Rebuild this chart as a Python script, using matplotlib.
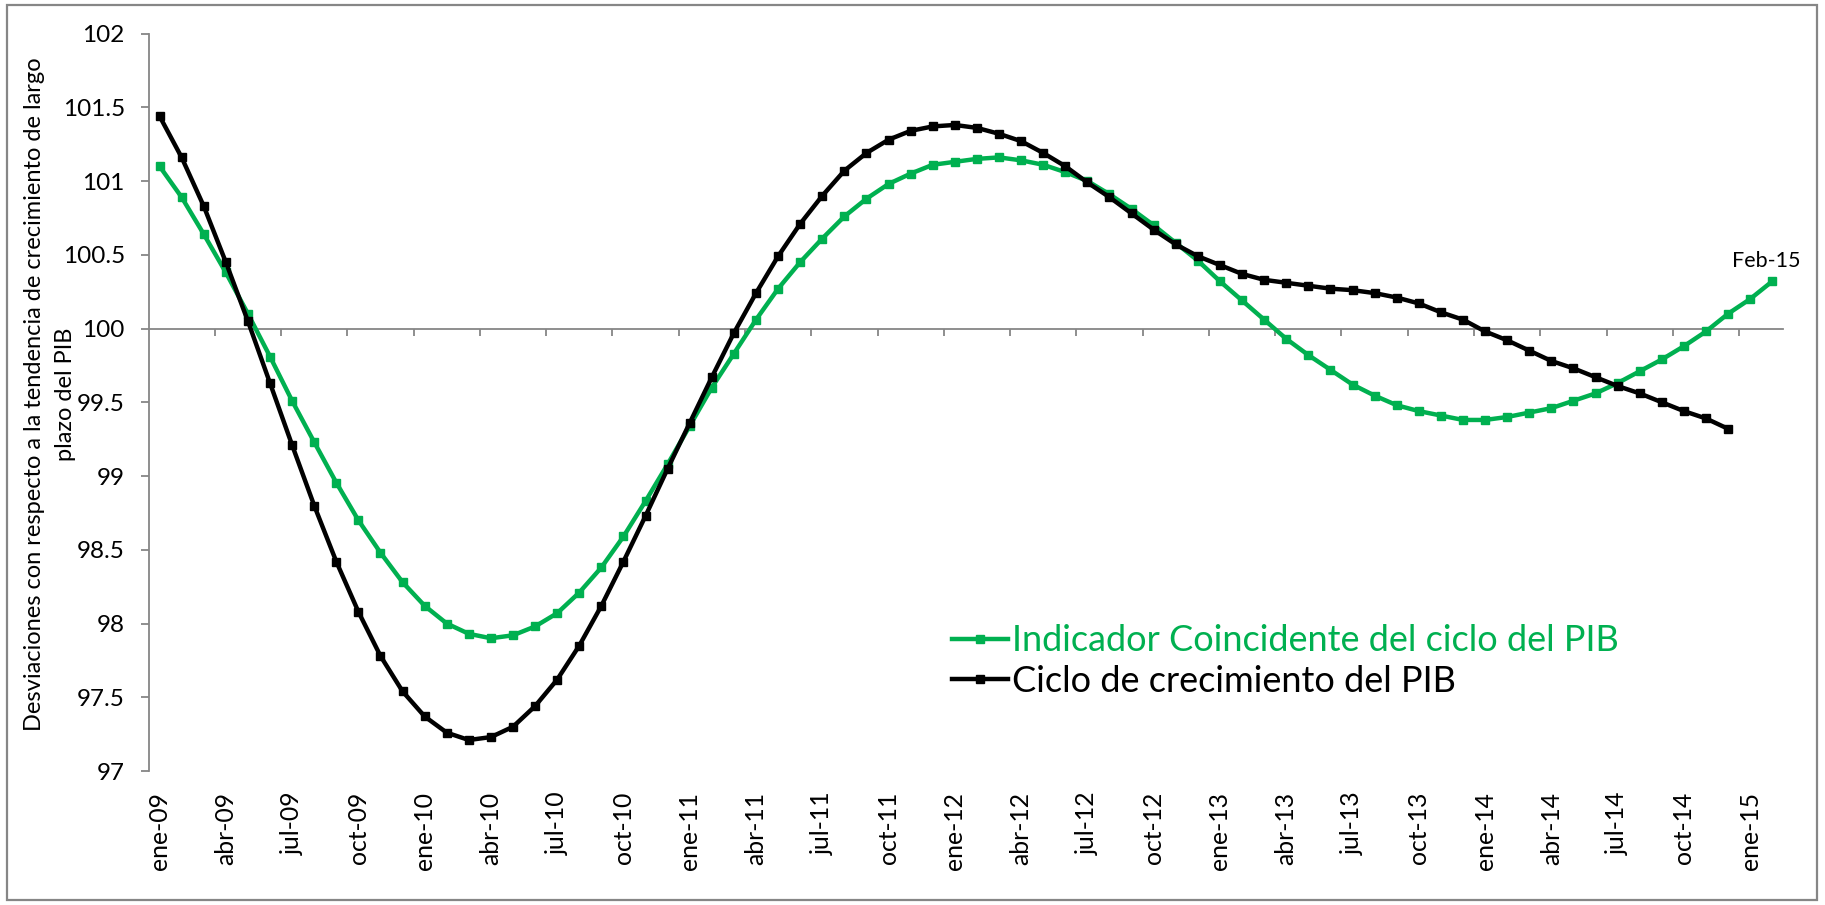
import matplotlib
matplotlib.use("Agg")
import matplotlib.pyplot as plt
import numpy as np
from matplotlib.patches import Rectangle
from matplotlib.ticker import FuncFormatter

plt.rcParams['font.family'] = ['Lato', 'DejaVu Sans']

# ---- data ----
tick_labels = ['ene-09', 'abr-09', 'jul-09', 'oct-09',
               'ene-10', 'abr-10', 'jul-10', 'oct-10',
               'ene-11', 'abr-11', 'jul-11', 'oct-11',
               'ene-12', 'abr-12', 'jul-12', 'oct-12',
               'ene-13', 'abr-13', 'jul-13', 'oct-13',
               'ene-14', 'abr-14', 'jul-14', 'oct-14',
               'ene-15']

indicador = [101.10, 100.89, 100.64, 100.38, 100.10, 99.81, 99.51, 99.23, 98.955, 98.70, 98.48, 98.28,
             98.12, 98.00, 97.93, 97.90, 97.92, 97.98, 98.07, 98.21, 98.38, 98.59, 98.83, 99.08,
             99.34, 99.60, 99.83, 100.06, 100.27, 100.45, 100.61, 100.76, 100.88, 100.98, 101.05, 101.11,
             101.13, 101.15, 101.16, 101.14, 101.11, 101.06, 101.00, 100.91, 100.81, 100.70, 100.58, 100.46,
             100.32, 100.19, 100.06, 99.93, 99.82, 99.72, 99.62, 99.545, 99.48, 99.44, 99.41, 99.38,
             99.38, 99.40, 99.43, 99.46, 99.51, 99.56, 99.63, 99.71, 99.79, 99.88, 99.98, 100.10,
             100.20, 100.32]

ciclo = [101.44, 101.16, 100.83, 100.45, 100.05, 99.63, 99.21, 98.80, 98.42, 98.08, 97.78, 97.54,
         97.37, 97.26, 97.21, 97.23, 97.30, 97.44, 97.62, 97.85, 98.12, 98.42, 98.73, 99.05,
         99.36, 99.67, 99.97, 100.24, 100.49, 100.71, 100.90, 101.07, 101.19, 101.28, 101.34, 101.37,
         101.38, 101.36, 101.32, 101.27, 101.19, 101.10, 100.99, 100.89, 100.78, 100.67, 100.57, 100.49,
         100.43, 100.37, 100.33, 100.31, 100.29, 100.27, 100.26, 100.24, 100.21, 100.17, 100.11, 100.06,
         99.98, 99.92, 99.85, 99.78, 99.73, 99.67, 99.61, 99.56, 99.50, 99.44, 99.39, 99.32]

label_green = 'Indicador Coincidente del ciclo del PIB'
label_black = 'Ciclo de crecimiento del PIB'
last_label = 'Feb-15'
ylabel_lines = ['Desviaciones con respecto a la tendencia de crecimiento de largo',
                'plazo del PIB']

GREEN = '#00B050'
BLACK = '#000000'
GRAY = '#868686'

W, H = 1825, 905
fig = plt.figure(figsize=(W / 100, H / 100), dpi=100)
fig.patch.set_facecolor('white')

left, right, top, bottom = 148.5, 1783.3, 33.5, 771.0
ax = fig.add_axes([left / W, 1 - bottom / H, (right - left) / W, (bottom - top) / H])

x_g = np.arange(len(indicador))
x_b = np.arange(len(ciclo))

ax.plot(x_g, indicador, color=GREEN, lw=3.2, marker='s', ms=6, mec=GREEN, mfc=GREEN,
        label=label_green, zorder=3)
ax.plot(x_b, ciclo, color=BLACK, lw=3.2, marker='s', ms=6, mec=BLACK, mfc=BLACK,
        label=label_black, zorder=4)

ax.set_xlim(-0.5, 73.5)
ax.set_ylim(97, 102)

# spines
for s in ['top', 'right']:
    ax.spines[s].set_visible(False)
ax.spines['left'].set_color(GRAY)
ax.spines['left'].set_linewidth(1.3)
ax.spines['bottom'].set_position(('data', 100))
ax.spines['bottom'].set_color(GRAY)
ax.spines['bottom'].set_linewidth(1.3)

# y ticks
ax.set_yticks(np.arange(97, 102.01, 0.5))
ax.yaxis.set_major_formatter(FuncFormatter(lambda v, p: f'{v:g}'))
ax.tick_params(axis='y', direction='out', length=6, width=1.3, color=GRAY,
               pad=11, labelsize=17.5, labelcolor='black')

# x ticks on the axis line at 100 (between categories)
ax.set_xticks(np.arange(2.5, 73, 3))
ax.tick_params(axis='x', direction='out', length=5, width=1.3, color=GRAY,
               labelbottom=False)

# x labels at bottom of plot
sec = ax.secondary_xaxis('bottom')
sec.spines['bottom'].set_visible(False)
sec.set_xticks(np.arange(0, 73, 3), tick_labels)
sec.tick_params(axis='x', length=0, pad=15, labelsize=17.8, rotation=90)

# y label: two centred lines
for xc, line in zip([35, 65], ylabel_lines):
    fig.text(xc / W, 1 - 394.5 / H, line, rotation=90, ha='center', va='center',
             fontsize=17)

# annotation of last point
ax.annotate(last_label, xy=(x_g[-1], indicador[-1]), xytext=(-4, 7.5),
            textcoords='offset points', ha='center', va='bottom', fontsize=15.5)

# legend
leg = ax.legend(loc='center left', bbox_to_anchor=(952 / W, 1 - 661 / H),
                bbox_transform=fig.transFigure, frameon=False, fontsize=26,
                handlelength=1.55, handletextpad=0.1, borderpad=0, borderaxespad=0,
                labelspacing=0.2, numpoints=1, labelcolor='linecolor')

# chart border
fig.patches.append(Rectangle((7 / W, 5 / H), (1817 - 7) / W, (900 - 5) / H,
                             transform=fig.transFigure, fill=False,
                             edgecolor=GRAY, lw=1.6))

fig.savefig('out.png', dpi=100)
